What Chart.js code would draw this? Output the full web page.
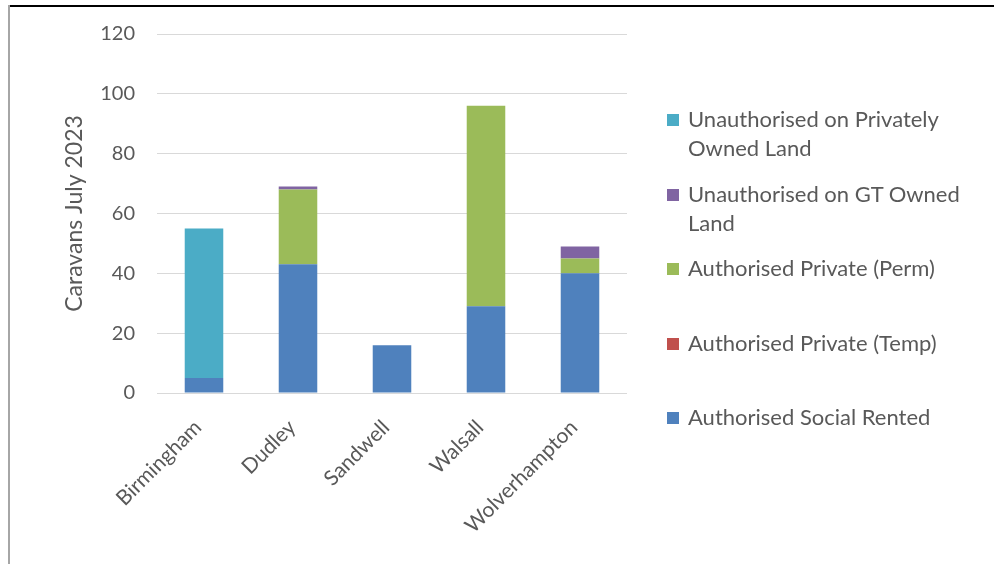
<!DOCTYPE html>
<html>
<head>
<meta charset="utf-8">
<script src="https://cdn.jsdelivr.net/npm/chart.js@4.4.0/dist/chart.umd.min.js"></script>
<style>
  html, body { margin: 0; padding: 0; background: #fff; }
  #wrap { position: relative; width: 999px; height: 564px; overflow: hidden; font-family: Lato, sans-serif; }
  #chart { position: absolute; left: 0; top: 0; }
  #frameTop { position: absolute; left: 8px; top: 5px; width: 986px; height: 2px; background: #000; }
  #frameLeft { position: absolute; left: 8px; top: 5px; width: 2px; height: 559px; background: #a6a6a6; }
  #legend { position: absolute; left: 667px; top: 104px; width: 320px; color: #595959; font-size: 22px; line-height: 29px; }
  .item { position: relative; height: 74.5px; padding-left: 21px; box-sizing: border-box; }
  .item span.box { position: absolute; left: 0; top: 10px; width: 12px; height: 12px; }
  .item .txt { width: 290px; }
</style>
</head>
<body>
<div id="wrap">
  <canvas id="chart" width="999" height="564"></canvas>
  <div id="frameTop"></div>
  <div id="frameLeft"></div>
  <div id="legend"></div>
</div>
<script>
const categories = ['Birmingham', 'Dudley', 'Sandwell', 'Walsall', 'Wolverhampton'];
const socialRented = [5, 43, 16, 29, 40];
const privateTemp = [0, 0, 0, 0, 0];
const privatePerm = [0, 25, 0, 67, 5];
const gtOwned = [0, 1, 0, 0, 4];
const privatelyOwned = [50, 0, 0, 0, 0];
const yMax = 120;
const yStep = 20;

const textColor = '#595959';
const fontFamily = 'Lato, sans-serif';

const datasets = [
  { label: 'Authorised Social Rented', data: socialRented, backgroundColor: '#4f81bd' },
  { label: 'Authorised Private (Temp)', data: privateTemp, backgroundColor: '#c0504d' },
  { label: 'Authorised Private (Perm)', data: privatePerm, backgroundColor: '#9bbb59' },
  { label: 'Unauthorised on GT Owned Land', data: gtOwned, backgroundColor: '#8064a2' },
  { label: 'Unauthorised on Privately Owned Land', data: privatelyOwned, backgroundColor: '#4bacc6' }
];

const ctx = document.getElementById('chart').getContext('2d');
const chart = new Chart(ctx, {
  type: 'bar',
  data: {
    labels: categories,
    datasets: datasets.map(d => ({ ...d, barPercentage: 0.41, categoryPercentage: 1, borderWidth: 0 }))
  },
  options: {
    responsive: false,
    animation: false,
    layout: { padding: { left: 0, top: 34, right: 372, bottom: 0 } },
    plugins: { legend: { display: false }, tooltip: { enabled: false } },
    scales: {
      x: {
        stacked: true,
        grid: { display: false },
        border: { display: false },
        ticks: {
          color: textColor,
          font: { family: fontFamily, size: 21 },
          minRotation: 45,
          maxRotation: 45,
          padding: 14,
          labelOffset: -6
        },
        afterFit: scale => { scale.height = 171; }
      },
      y: {
        stacked: true,
        min: 0,
        max: yMax,
        grid: { color: '#d9d9d9', drawTicks: false },
        border: { display: false },
        ticks: {
          stepSize: yStep,
          color: textColor,
          font: { family: fontFamily, size: 20 },
          padding: 22
        },
        title: {
          display: true,
          text: 'Caravans July 2023',
          color: textColor,
          font: { family: fontFamily, size: 23 },
          padding: { top: 61, bottom: 0 }
        },
        afterFit: scale => { scale.width = 157; }
      }
    }
  }
});

// legend built from the datasets, top series first like the original
const legend = document.getElementById('legend');
chart.data.datasets.slice().reverse().forEach(ds => {
  const item = document.createElement('div');
  item.className = 'item';
  item.innerHTML = '<span class="box" style="background:' + ds.backgroundColor + '"></span><div class="txt">' + ds.label + '</div>';
  legend.appendChild(item);
});
</script>
</body>
</html>
